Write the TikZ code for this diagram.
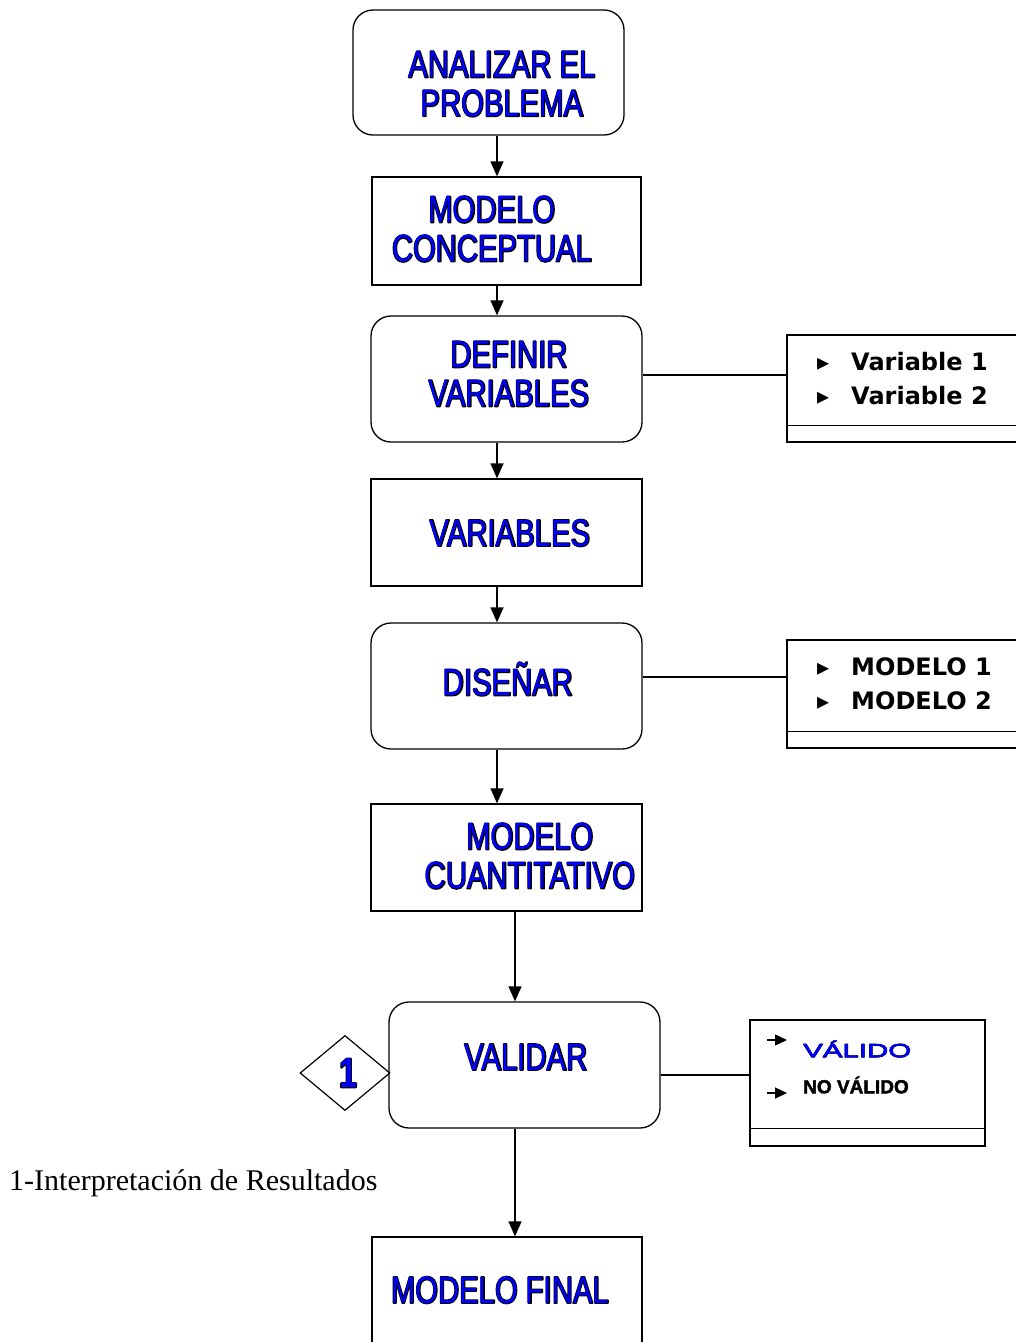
\documentclass[tikz,border=0pt]{standalone}
\usepackage{fontspec}
\usetikzlibrary{arrows.meta,shapes.geometric}
\newfontfamily\bxf[FakeStretch=0.77]{Liberation Sans}
\newfontfamily\bxfo[FakeStretch=0.77,FakeBold=4.5]{Liberation Sans}
\newfontfamily\wdf[FakeStretch=1.55,FakeBold=1]{Liberation Sans}
\newfontfamily\wdfo[FakeStretch=1.55,FakeBold=4]{Liberation Sans}
\newfontfamily\blkf[FakeBold=2]{Liberation Sans Bold}
\newfontfamily\dvb{DejaVu Sans Bold}
\newfontfamily\serf{Liberation Serif}
\newcommand\outl[1]{\leavevmode\rlap{\color{black}\bxfo #1}{\color{blue}\bxf #1}}
\newcommand\outw[1]{\leavevmode\rlap{\color{black}\wdfo #1}{\color{blue}\wdf #1}}
\tikzset{
  box/.style={draw, line width=1.3pt, inner sep=0pt},
  rbox/.style={box, rounded corners=20pt},
  btxt/.style={font=\fontsize{38}{39}\selectfont, align=center, inner sep=0pt, line join=round},
  arr/.style={line width=1.3pt, -{Triangle[length=15pt,width=13pt]}},
  lnk/.style={line width=1.3pt},
  side/.style={font=\dvb\fontsize{24}{34}\selectfont, align=left, inner sep=0pt, anchor=west},
}
\begin{document}
\begin{tikzpicture}[x=1pt,y=-1pt]
\useasboundingbox (0,0) rectangle (1016,1342);
\clip (0,0) rectangle (1016,1342);
\coordinate (xa) at (497,0);
\coordinate (xb) at (515,0);
% main boxes
\node[rbox, minimum width=271pt, minimum height=125pt] (b1) at (488.5,72.5) {};
\node[box, minimum width=269pt, minimum height=108pt] (b2) at (506.5,231) {};
\node[rbox, minimum width=271pt, minimum height=126pt] (b3) at (506.5,379) {};
\node[box, minimum width=271pt, minimum height=107pt] (b4) at (506.5,532.5) {};
\node[rbox, minimum width=271pt, minimum height=126pt] (b5) at (506.5,686) {};
\node[box, minimum width=271pt, minimum height=107pt] (b6) at (506.5,857.5) {};
\node[rbox, minimum width=271pt, minimum height=126pt] (b7) at (524.5,1065) {};
\node[box, minimum width=270pt, minimum height=130pt] (b8) at (507,1302) {};
% texts
\node[btxt] (t1) at (502,84) {\outl{ANALIZAR EL}\\\outl{PROBLEMA}};
\node[btxt] (t2) at (492,229) {\outl{MODELO}\\\outl{CONCEPTUAL}};
\node[btxt] (t3) at (509,374) {\outl{DEFINIR}\\\outl{VARIABLES}};
\node[btxt] (t4) at (510,533) {\outl{VARIABLES}};
\node[btxt] (t5) at (508,679) {\outl{DISEÑAR}};
\node[btxt] (t6) at (530,856) {\outl{MODELO}\\\outl{CUANTITATIVO}};
\node[btxt] (t7) at (526,1057) {\outl{VALIDAR}};
\node[btxt] (t8) at (500,1290) {\outl{MODELO FINAL}};
% arrows
\draw[arr] (b1.south -| xa) -- (b2.north -| xa);
\draw[arr] (b2.south -| xa) -- (b3.north -| xa);
\draw[arr] (b3.south -| xa) -- (b4.north -| xa);
\draw[arr] (b4.south -| xa) -- (b5.north -| xa);
\draw[arr] (b5.south -| xa) -- (b6.north -| xa);
\draw[arr] (b6.south -| xb) -- (b7.north -| xb);
\draw[arr] (b7.south -| xb) -- (b8.north -| xb);
% side boxes
\node[box, minimum width=250pt, minimum height=107pt] (s1) at (912,388.5) {};
\draw[lnk] ([yshift=17pt]s1.south west) -- ([yshift=17pt]s1.south east);
\node[side] (s1t) at (817,379) {▸\hspace{22pt}Variable 1\\▸\hspace{22pt}Variable 2};
\draw[lnk] ([yshift=4pt]b3.east) -- ([yshift=4pt]b3.east -| s1.west);

\node[box, minimum width=250pt, minimum height=108pt] (s2) at (912,694) {};
\draw[lnk] ([yshift=17pt]s2.south west) -- ([yshift=17pt]s2.south east);
\node[side] (s2t) at (817,684) {▸\hspace{22pt}MODELO 1\\▸\hspace{22pt}MODELO 2};
\draw[lnk] ([yshift=9pt]b5.east) -- ([yshift=9pt]b5.east -| s2.west);

\node[box, minimum width=235pt, minimum height=126pt] (s3) at (867.5,1083) {};
\draw[lnk] ([yshift=18pt]s3.south west) -- ([yshift=18pt]s3.south east);
\draw[lnk] ([yshift=-10pt]b7.east) -- ([yshift=-10pt]b7.east -| s3.west);
\coordinate (p1) at (767,1040);
\coordinate (q1) at (787,1040);
\coordinate (p2) at (767,1093);
\coordinate (q2) at (787,1093);
\draw[line width=1.3pt, -{Triangle[length=12pt,width=11pt]}] (p1) -- (q1);
\draw[line width=1.3pt, -{Triangle[length=12pt,width=11pt]}] (p2) -- (q2);
\node[inner sep=0pt, anchor=west, line join=round, font=\fontsize{19}{20}\selectfont] (v1) at (803,1049) {\outw{VÁLIDO}};
\node[inner sep=0pt, anchor=west, line join=round, font=\blkf\fontsize{19}{20}\selectfont] (v2) at (803,1085) {NO VÁLIDO};
% diamond
\node[draw, line width=1.2pt, diamond, inner sep=0pt, minimum width=90pt, minimum height=75pt] (d1) at (345,1073) {};
\node[inner sep=0pt, line join=round, font=\fontsize{42}{42}\selectfont] (d1t) at (348,1073) {\outl{\textbf{1}}};
% footnote text
\node[inner sep=0pt, anchor=west, font=\serf\fontsize{30}{32}\selectfont] (note) at (9,1183) {1-Interpretación de Resultados};
\end{tikzpicture}
\end{document}
